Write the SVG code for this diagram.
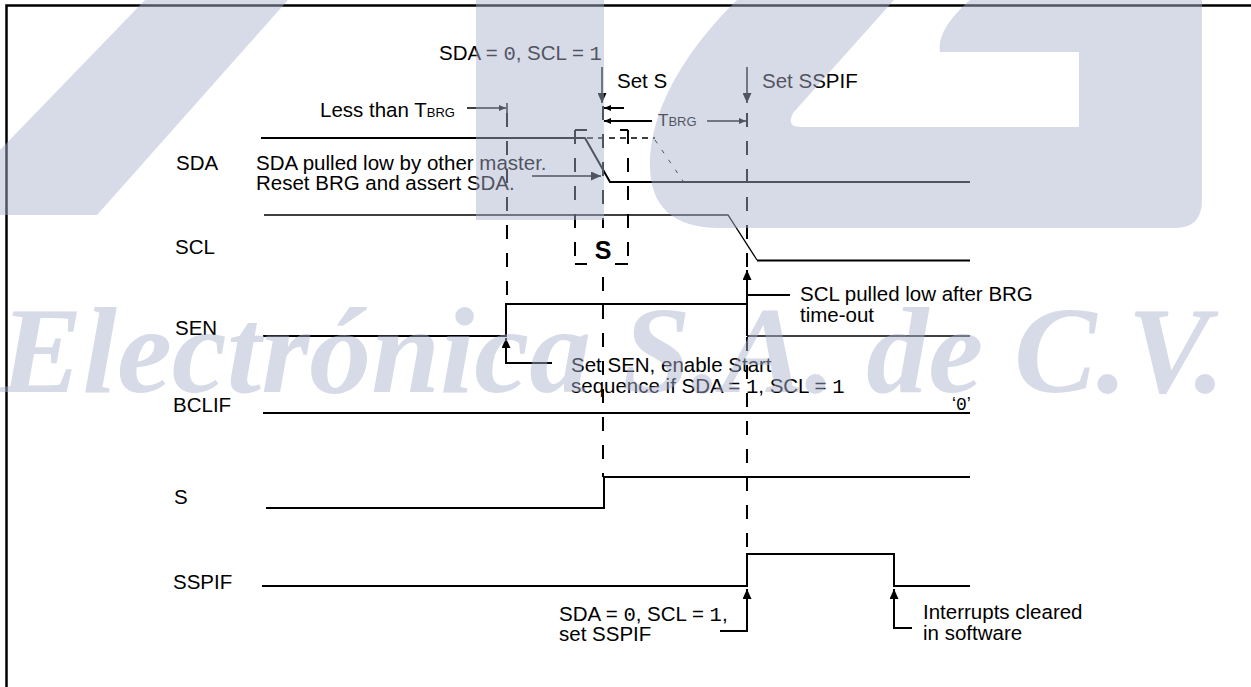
<svg xmlns="http://www.w3.org/2000/svg" width="1251" height="687" viewBox="0 0 1251 687">
<style>
.t{font-family:"Liberation Sans",Arial,sans-serif;font-size:20.5px;fill:#000}
.m{font-family:"Liberation Mono","Courier New",monospace}
.w2{stroke:#000;stroke-width:2;fill:none}
.w1{stroke:#000;stroke-width:1.3;fill:none}
.d{stroke:#000;stroke-width:2;fill:none;stroke-dasharray:14 14}
.ar{stroke:#000;stroke-width:1.5;fill:none}
</style>
<defs>
<marker id="big" viewBox="0 0 10 9" refX="10" refY="4.5" markerWidth="10" markerHeight="9" markerUnits="userSpaceOnUse" orient="auto"><path d="M0,0 L10,4.5 L0,9 z" fill="#000"/></marker>
<marker id="sm" viewBox="0 0 7 6" refX="7" refY="3" markerWidth="7" markerHeight="6" markerUnits="userSpaceOnUse" orient="auto"><path d="M0,0 L7,3 L0,6 z" fill="#000"/></marker>
</defs>
<rect width="1251" height="687" fill="#fff"/>
<path d="M6.5,687 V5.5 H1251" stroke="#000" stroke-width="2.5" fill="none"/>

<g id="labels" class="t">
<text x="176" y="170">SDA</text>
<text x="175" y="254">SCL</text>
<text x="175" y="335">SEN</text>
<text x="173" y="412">BCLIF</text>
<text x="174" y="504">S</text>
<text x="173" y="589">SSPIF</text>
</g>

<g id="sig-SDA">
<path class="w2" d="M261,138 H585 L610,182 H970"/>
<path d="M587,138 H655" stroke="#000" stroke-width="1.5" stroke-dasharray="6 5" fill="none"/>
<path d="M655,140 L683,181" stroke="#000" stroke-width="1" stroke-dasharray="4 8" fill="none"/>
</g>
<g id="sig-SCL">
<path class="w1" d="M264,215 H728 L757,260"/>
<path class="w2" d="M757,260.5 H970"/>
</g>
<g id="sig-SEN">
<path class="w2" d="M263,336 H506 V304 H747 V336"/>
<path class="w1" d="M747,336 H970"/>
</g>
<g id="sig-BCLIF">
<path class="w2" d="M263,413 H970"/>
<text x="952" y="410" style="font-family:'Liberation Sans',Arial,sans-serif;font-size:18px">‘<tspan class="m">0</tspan>’</text>
</g>
<g id="sig-S">
<path class="w2" d="M266,508 H604 V477 H970"/>
</g>
<g id="sig-SSPIF">
<path class="w2" d="M262,586 H747 V554 H894 V586 H970"/>
</g>

<g id="start-box">
<path class="w2" d="M587,130 H575 M575,264 H587 M620,130 H628 M628,264 H615"/>
<path class="d" d="M575,130 V264 M628,130 V264"/>
<text x="603" y="259" text-anchor="middle" style="font-family:'Liberation Sans',Arial,sans-serif;font-size:25px;font-weight:bold">S</text>
</g>

<g id="connectors">
<path class="d" d="M507,113 V304"/>
<path class="d" d="M603,106 V228 M603,277 V477"/>
<path class="d" d="M747,113 V268 M747,337 V554"/>
<line class="ar" x1="602" y1="67" x2="602" y2="103" marker-end="url(#big)"/>
<line class="ar" x1="747" y1="67" x2="747" y2="103" marker-end="url(#big)"/>
<line class="ar" x1="467" y1="108" x2="506" y2="108" marker-end="url(#sm)"/>
<line class="ar" x1="507" y1="103" x2="507" y2="114"/>
<line class="w2" x1="624" y1="108" x2="604" y2="108" marker-end="url(#sm)"/>
<line class="w2" x1="652" y1="121" x2="604" y2="121" marker-end="url(#sm)"/>
<line class="ar" x1="707" y1="121" x2="746" y2="121" marker-end="url(#sm)"/>
<line class="ar" x1="747" y1="115" x2="747" y2="127"/>
<line class="ar" x1="532" y1="176" x2="601" y2="176" marker-end="url(#big)"/>
<line class="w2" x1="747" y1="304" x2="747" y2="270" marker-end="url(#big)"/>
<line class="w2" x1="747" y1="295" x2="790" y2="295"/>
<path class="w2" d="M552,363 H506 V338" marker-end="url(#big)"/>
<path class="w2" d="M720,631 H747 V589" marker-end="url(#big)"/>
<path class="w2" d="M912,628 H894 V589" marker-end="url(#big)"/>
</g>

<g id="annotations" class="t">
<text x="439" y="60">SDA = <tspan class="m">0</tspan>, SCL = <tspan class="m">1</tspan></text>
<text x="617" y="88">Set S</text>
<text x="762" y="88">Set SSPIF</text>
<text x="320" y="117">Less than T<tspan style="font-size:13px">BRG</tspan></text>
<text x="658" y="126" style="font-size:17px">T<tspan style="font-size:13px">BRG</tspan></text>
<text x="256" y="170">SDA pulled low by other master.</text>
<text x="256" y="190">Reset BRG and assert SDA.</text>
<text x="800" y="301">SCL pulled low after BRG</text>
<text x="800" y="322">time-out</text>
<text x="571" y="372">Set SEN, enable Start</text>
<text x="571" y="393">sequence if SDA = <tspan class="m">1</tspan>, SCL = <tspan class="m">1</tspan></text>
<text x="559" y="621">SDA = <tspan class="m">0</tspan>, SCL = <tspan class="m">1</tspan>,</text>
<text x="559" y="641">set SSPIF</text>
<text x="923" y="619">Interrupts cleared</text>
<text x="923" y="640">in software</text>
</g>

<g id="watermark" fill="#a9b1cb" fill-opacity="0.47">
<path d="M145,0 L288,0 L97,215 L0,215 L0,150 Z"/>
<path d="M476,0 H604 V220 H476 Z"/>
<path d="M737,0 L894,0 L793,113 Q786,127 800,127 L1079,127 L1079,52 L940,52 Q936,30 970,0 L1202,0 L1202,200 Q1202,228 1175,228 L720,228 Q650,228 650,165 C650,100 698,38 737,0 Z"/>
<text x="0" y="392" textLength="1225" lengthAdjust="spacingAndGlyphs" style="font-family:'Liberation Serif','Times New Roman',serif;font-size:122px;font-weight:bold;font-style:italic">Electrónica S.A. de C.V.</text>
</g>
</svg>
